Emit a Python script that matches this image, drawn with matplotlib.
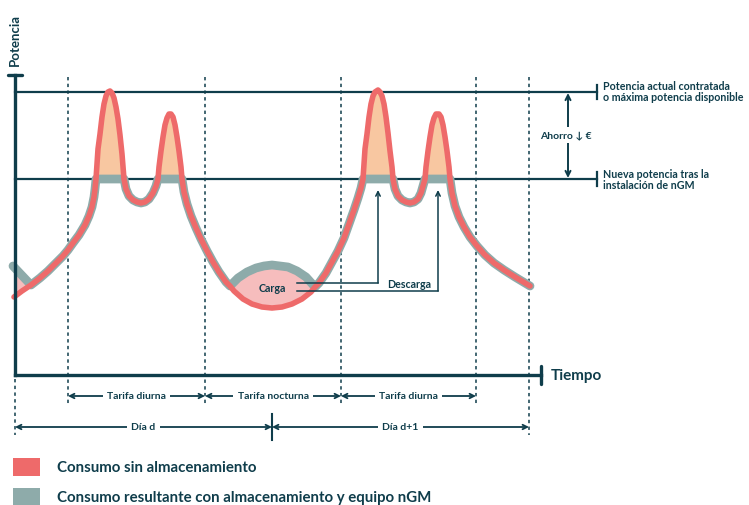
import matplotlib
matplotlib.use("Agg")
import matplotlib.pyplot as plt

plt.rcParams['font.family'] = ['Lato', 'DejaVu Sans']

dark = '#0f3d4b'
red = '#ee6a6a'
grey = '#8eabaa'
peach = '#f8c7a1'
pink = '#f6bdbd'

# curve of consumption without storage (x = time px, y = power px, y grows downward)
left_rise = [(14, 298), (22, 292), (31, 286), (40, 279), (48, 272), (56, 264), (63, 257),
             (68, 251), (73, 244), (79, 236), (85, 226), (89, 217), (92, 208), (94, 198),
             (95, 190), (96, 180)]
peak1 = [(96, 180), (97, 165), (98, 150), (100, 135), (102, 118), (104, 105), (106, 97),
         (108, 93), (110, 92), (112, 94), (114, 99), (116, 108), (118, 120), (120, 136),
         (122, 155), (123, 168), (124, 180)]
dip1 = [(124, 180), (126, 190), (129, 197), (133, 201), (137, 203), (141, 204), (145, 203),
        (149, 200), (153, 194), (156, 187), (158, 180)]
peak2 = [(158, 180), (159, 168), (161, 152), (163, 138), (165, 126), (167, 119), (169, 115),
         (171, 115), (173, 118), (175, 126), (177, 138), (179, 152), (181, 168), (182, 180)]
night = [(182, 180), (184, 193), (187, 205), (191, 217), (196, 229), (201, 240), (207, 252),
         (213, 263), (219, 273), (226, 283), (230, 287), (234, 292), (243, 300), (252, 305),
         (262, 308), (272, 309), (282, 308), (292, 305), (302, 300), (311, 293), (315, 288),
         (319, 284), (326, 274), (332, 263), (338, 252), (344, 239), (349, 225), (354, 211),
         (358, 199), (361, 189), (363, 180)]
peak3 = [(363, 180), (364, 165), (365, 150), (367, 135), (369, 118), (371, 105), (373, 97),
         (375, 93), (378, 91), (380, 93), (382, 97), (384, 105), (386, 118), (388, 134),
         (390, 152), (392, 168), (393, 180)]
dip2 = [(393, 180), (395, 190), (398, 197), (402, 201), (406, 203), (410, 204), (414, 203),
        (418, 200), (421, 194), (423, 187), (425, 180)]
peak4 = [(425, 180), (426, 168), (428, 152), (430, 138), (432, 126), (434, 119), (436, 115),
         (439, 115), (441, 118), (443, 126), (445, 138), (447, 152), (449, 168), (450, 180)]
right_fall = [(450, 180), (452, 194), (455, 207), (459, 218), (464, 228), (470, 238),
              (477, 247), (485, 256), (494, 264), (504, 271), (515, 278), (530, 287)]

# charging arc of the storage during night tariff
charge_arc = [(230, 287), (238, 279), (247, 273), (256, 269), (264, 267), (272, 266),
              (280, 267), (288, 268), (297, 272), (306, 278), (315, 288)]
start_grey = (13, 267)

contracted = 93
new_power = 180
tariff_bounds = [68, 205, 341, 476]
tariff_labels = ['Tarifa diurna', 'Tarifa nocturna', 'Tarifa diurna']
day_bounds = [15, 272, 529]
day_labels = ['Día d', 'Día d+1']
legend_labels = ['Consumo sin almacenamiento',
                 'Consumo resultante con almacenamiento y equipo nGM']

fig = plt.figure(figsize=(7.49, 5.06), dpi=100)
ax = fig.add_axes([0, 0, 1, 1])
ax.set_xlim(0, 749)
ax.set_ylim(506, 0)
ax.axis('off')


def xs(pts):
    return [p[0] for p in pts]


def ys(pts):
    return [p[1] for p in pts]


red_curve = left_rise + peak1[1:] + dip1[1:] + peak2[1:] + night[1:] + peak3[1:] + dip2[1:] + peak4[1:] + right_fall[1:]
night_before = [p for p in night if p[0] <= 230]
night_after = [p for p in night if p[0] >= 315]
grey_curve = ([start_grey] + [p for p in left_rise if p[0] >= 31] + dip1 + night_before
              + charge_arc[1:] + night_after[1:] + dip2 + right_fall)

# fills
for pk in [peak1, peak2, peak3, peak4]:
    ax.fill(xs(pk), ys(pk), color=peach, lw=0, zorder=2)
valley = charge_arc + [p for p in reversed(night) if 230 < p[0] < 315]
ax.fill(xs(valley), ys(valley), color=pink, lw=0, zorder=2)
ax.fill([15, 31, 15], [268, 286, 297], color=pink, lw=0, zorder=2)

# dashed guides
for x in tariff_bounds:
    ax.plot([x, x], [78, 405], color=dark, lw=1.1, ls=(0, (2.2, 2.2)), zorder=1)
ax.plot([15, 15], [380, 436], color=dark, lw=1.1, ls=(0, (2.2, 2.2)), zorder=1)
ax.plot([529, 529], [78, 436], color=dark, lw=1.1, ls=(0, (2.2, 2.2)), zorder=1)

# power levels
for yv in [contracted, new_power]:
    ax.plot([15, 597], [yv, yv], color=dark, lw=1.6, zorder=1.5)
    ax.plot([597, 597], [yv - 7, yv + 7], color=dark, lw=1.6)
ax.text(603, contracted - 1, 'Potencia actual contratada\no máxima potencia disponible',
        fontsize=7.7, fontweight='bold', color=dark, va='center', linespacing=0.95)
ax.text(603, new_power, 'Nueva potencia tras la\ninstalación de nGM',
        fontsize=7.7, fontweight='bold', color=dark, va='center', linespacing=0.95)
ax.annotate('', xy=(568, contracted + 1), xytext=(568, new_power - 1),
            arrowprops=dict(arrowstyle='<->', color=dark, lw=1.4, shrinkA=0, shrinkB=0,
                            mutation_scale=9))
ax.text(566, 136, 'Ahorro ↓ €', fontsize=7.5, fontweight='bold', color=dark,
        ha='center', va='center', bbox=dict(fc='white', ec='none', pad=2.5), zorder=4)

# curves
ax.plot(xs(grey_curve), ys(grey_curve), color=grey, lw=6.3, solid_capstyle='round',
        solid_joinstyle='round', zorder=3)
ax.plot(xs(red_curve), ys(red_curve), color=red, lw=4.0, solid_capstyle='round',
        solid_joinstyle='round', zorder=3.5)

# axes
ax.plot([15, 15], [76, 376], color=dark, lw=2.4, zorder=5)
ax.plot([8, 22], [76, 76], color=dark, lw=2.4, solid_capstyle='round', zorder=5)
ax.plot([15, 541], [376, 376], color=dark, lw=2.4, zorder=5)
ax.plot([541, 541], [367, 385], color=dark, lw=2.4, solid_capstyle='round', zorder=5)
ax.text(15, 40, 'Potencia', rotation=90, fontsize=9.5, fontweight='bold', color=dark,
        ha='center', va='center')
ax.text(551, 376, 'Tiempo', fontsize=11, fontweight='bold', color=dark, va='center')

# carga / descarga
ax.text(272, 288, 'Carga', fontsize=7.7, fontweight='bold', color=dark,
        ha='center', va='center', zorder=6)
ax.text(409, 284, 'Descarga', fontsize=7.7, fontweight='bold', color=dark,
        ha='center', va='center', zorder=6)
for xt, yl in [(378, 284), (438, 292)]:
    ax.plot([297, xt], [yl, yl], color=dark, lw=1.1, zorder=6)
    ax.annotate('', xy=(xt, 191), xytext=(xt, yl),
                arrowprops=dict(arrowstyle='->', color=dark, lw=1.1, shrinkA=0, shrinkB=0,
                                mutation_scale=8), zorder=6)

# tariff and day spans
for i, lab in enumerate(tariff_labels):
    x1, x2 = tariff_bounds[i], tariff_bounds[i + 1]
    ax.annotate('', xy=(x2, 397), xytext=(x1, 397),
                arrowprops=dict(arrowstyle='<->', color=dark, lw=1.3, shrinkA=0, shrinkB=0,
                                mutation_scale=8))
    ax.text((x1 + x2) / 2, 397, lab, fontsize=7.5, fontweight='bold', color=dark,
            ha='center', va='center', bbox=dict(fc='white', ec='none', pad=3))
for i, lab in enumerate(day_labels):
    x1, x2 = day_bounds[i], day_bounds[i + 1]
    ax.annotate('', xy=(x2, 428), xytext=(x1, 428),
                arrowprops=dict(arrowstyle='<->', color=dark, lw=1.3, shrinkA=0, shrinkB=0,
                                mutation_scale=8))
    ax.text((x1 + x2) / 2, 428, lab, fontsize=7.5, fontweight='bold', color=dark,
            ha='center', va='center', bbox=dict(fc='white', ec='none', pad=3))
ax.plot([272, 272], [415, 441], color=dark, lw=1.5)

# legend
for yc, col, lab in [(468, red, legend_labels[0]), (498, grey, legend_labels[1])]:
    ax.add_patch(plt.Rectangle((13, yc - 9), 27, 18, color=col, lw=0))
    ax.text(57, yc, lab, fontsize=10.8, fontweight='bold', color=dark, va='center')

fig.savefig('out.png', dpi=100)
